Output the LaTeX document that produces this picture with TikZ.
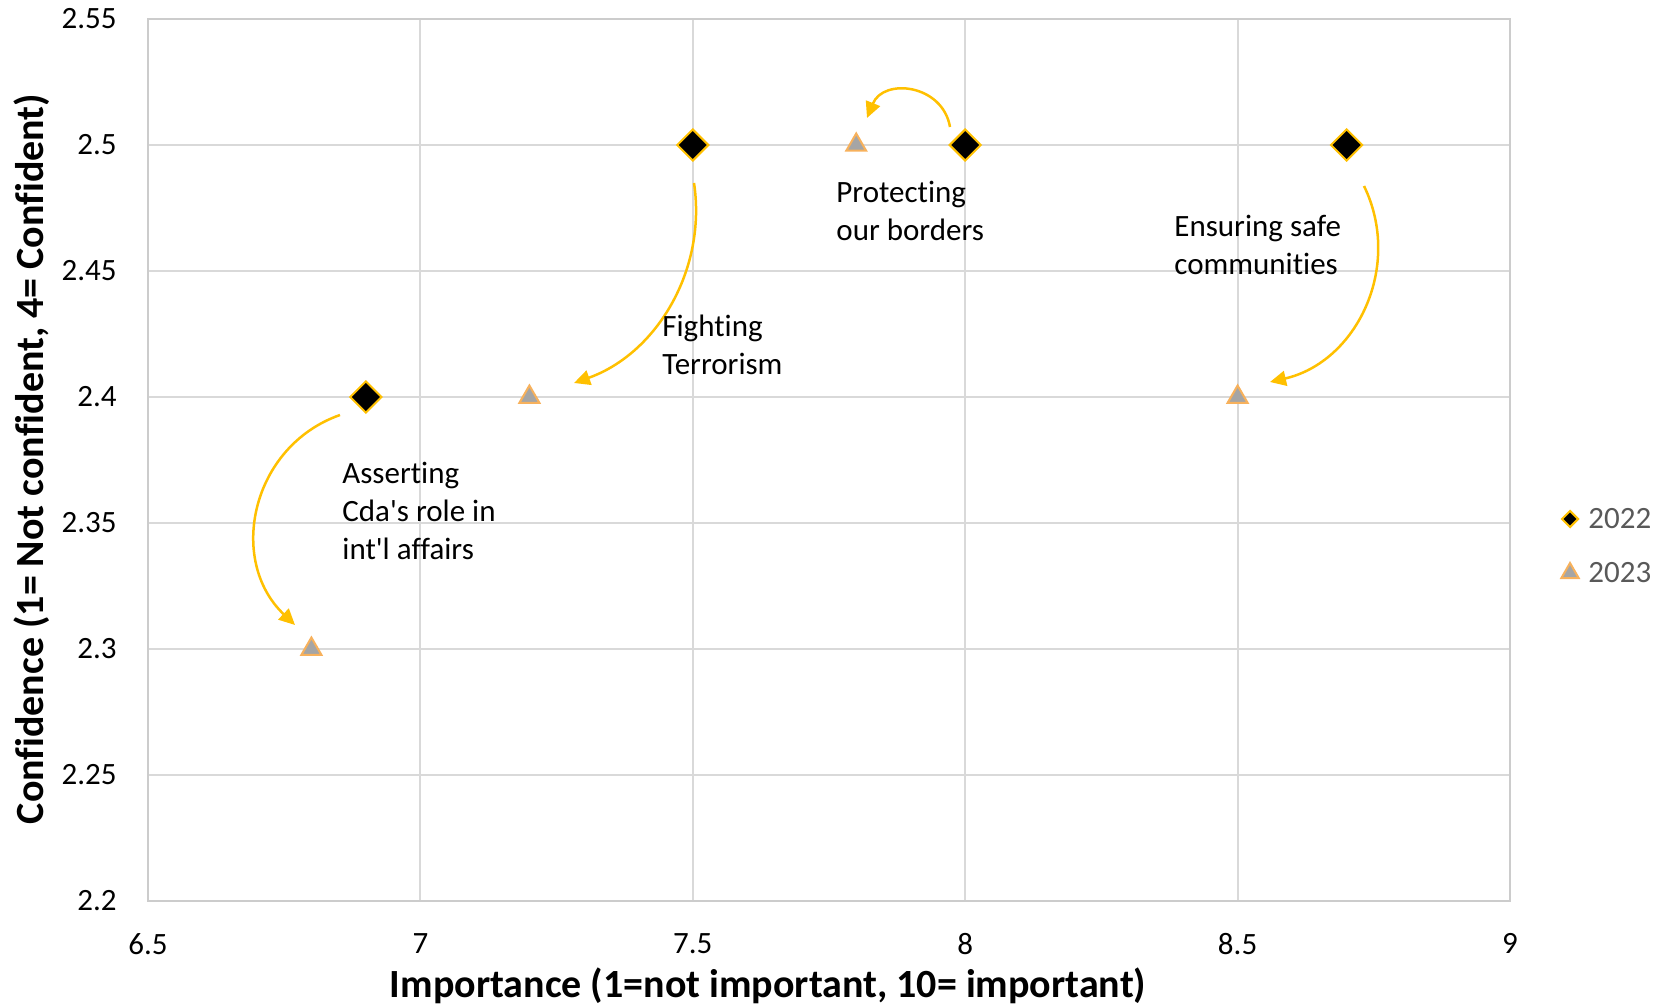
\documentclass[tikz,border=0pt]{standalone}
\usepackage{fontspec}
\setmainfont{Carlito}
\newfontfamily\calib[Ligatures=NoCommon]{Carlito}
\usetikzlibrary{arrows.meta,shapes.geometric}
\definecolor{gridc}{HTML}{D9D9D9}
\definecolor{axc}{HTML}{CCCCCC}
\definecolor{gold}{HTML}{FFC000}
\definecolor{trifill}{HTML}{A5A5A5}
\definecolor{triedge}{HTML}{F7B15C}
\definecolor{legtext}{HTML}{595959}
\begin{document}
\begin{tikzpicture}[x=0.5pt,y=-0.5pt,
  gridline/.style={draw=gridc,line width=1pt},
  tick/.style={inner sep=0pt,font=\calib\fontsize{15.5}{19}\selectfont},
  lab/.style={anchor=base west,align=left,inner sep=0pt,font=\calib\fontsize{15.5}{19}\selectfont},
  legtxt/.style={anchor=west,inner sep=0pt,text=legtext,font=\calib\fontsize{15.5}{19}\selectfont},
  axtitle/.style={inner sep=0pt,font=\calib\fontsize{20}{24}\selectfont\bfseries},
  dia/.style={diamond,draw=gold,fill=black,line width=1pt,inner sep=0pt,minimum width=16pt,minimum height=16pt},
  diasmall/.style={dia,minimum width=8.5pt,minimum height=8.5pt},
  tri/.style={regular polygon,regular polygon sides=3,draw=triedge,fill=trifill,line width=1pt,inner sep=0pt,minimum size=11.5pt},
  trismall/.style={tri,minimum size=10pt},
  trend/.style={draw=gold,line width=1.25pt,-{Triangle[length=8pt,width=7.5pt]}}
]
\useasboundingbox (0,0) rectangle (1658,1005);
% grid
\foreach \gx in {420.4,692.8,965.2,1237.6}
  \draw[gridline] (\gx,19) -- (\gx,901);
\foreach \gy in {145,271,397,523,649,775}
  \draw[gridline] (148,\gy) -- (1510,\gy);
\draw[draw=axc,line width=1pt] (148,19) rectangle (1510,901);
% tick labels
\foreach \v/\p [count=\i] in {6.5/148,7/420.4,7.5/692.8,8/965.2,8.5/1237.6,9/1510}
  \node[tick,anchor=north] (xt\i) at (\p,933) {\v};
\foreach \v/\p [count=\i] in {2.55/19,2.5/145,2.45/271,2.4/397,2.35/523,2.3/649,2.25/775,2.2/901}
  \node[tick,anchor=east] (yt\i) at (117,\p) {\v};
% axis titles
\node[axtitle,anchor=base] (xtitle) at (768,997) {Importance (1=not important, 10= important)};
\node[axtitle,anchor=base,rotate=90] (ytitle) at (43,459) {Confidence (1= Not confident, 4= Confident)};
% arrows
\coordinate (a1s) at (340,415); \coordinate (a1e) at (295,625);
\draw[trend] (a1s) .. controls (251.4,446.2) and (226.9,560.1) .. (a1e);
\coordinate (a2s) at (694,183); \coordinate (a2e) at (574,383);
\draw[trend] (a2s) .. controls (707.0,269.6) and (656.6,353.7) .. (a2e);
\coordinate (a3s) at (950,127); \coordinate (a3e) at (867,118);
\draw[trend] (a3s) .. controls (942.6,84.1) and (883.5,77.6) .. (a3e);
\coordinate (a4s) at (1364,186); \coordinate (a4e) at (1270,382);
\draw[trend] (a4s) .. controls (1403.0,266.3) and (1356.9,361.9) .. (a4e);
% markers 2022
\node[dia] (d1) at (365.9,397) {};
\node[dia] (d2) at (692.8,145) {};
\node[dia] (d3) at (965.2,145) {};
\node[dia] (d4) at (1346.6,145) {};
% markers 2023
\node[tri] (t1) at (311.4,649) {};
\node[tri] (t2) at (529.4,397) {};
\node[tri] (t3) at (856.2,145) {};
\node[tri] (t4) at (1237.6,397) {};
% labels (anchor = baseline of the last line)
\node[lab] (l1) at (342,559) {Asserting\\Cda's role in\\int'l affairs};
\node[lab] (l2) at (662,374) {Fighting\\Terrorism};
\node[lab] (l3) at (836,241) {Protecting\\our borders};
\node[lab] (l4) at (1174,275) {Ensuring safe\\communities};
% legend
\node[diasmall] (k1) at (1570,519) {};
\node[legtxt] (k1t) at (1588,519) {2022};
\node[trismall] (k2) at (1570,573) {};
\node[legtxt] (k2t) at (1588,573) {2023};
\end{tikzpicture}
\end{document}
